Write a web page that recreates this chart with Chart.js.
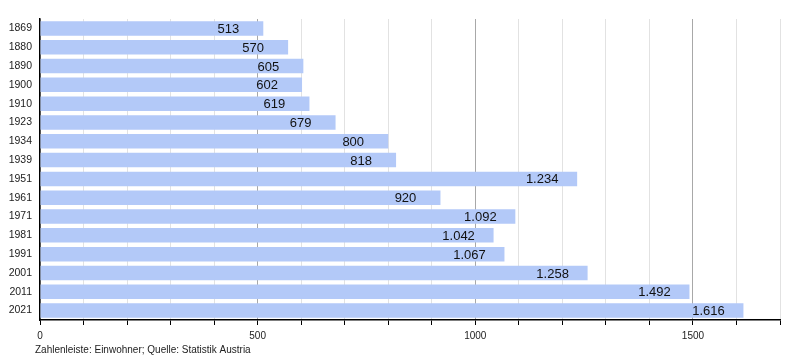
<!DOCTYPE html>
<html>
<head>
<meta charset="utf-8">
<script src="https://cdn.jsdelivr.net/npm/chart.js@4/dist/chart.umd.min.js"></script>
<style>
  html, body { margin: 0; padding: 0; background: #fff; }
  #wrap { width: 800px; height: 360px; position: relative; }
</style>
</head>
<body>
<div id="wrap"><canvas id="canvasID"></canvas></div>
<script>
const years = ['1869', '1880', '1890', '1900', '1910', '1923', '1934', '1939', '1951', '1961', '1971', '1981', '1991', '2001', '2011', '2021']
const population = [513, 570, 605, 602, 619, 679, 800, 818, 1234, 920, 1092, 1042, 1067, 1258, 1492, 1616]
const xTickLabels = [0, 500, 1000, 1500]
const footerText = 'Zahlenleiste: Einwohner; Quelle: Statistik Austria'

// german thousands separator, 1234 -> 1.234
const formatDE = (v) => String(v).replace(/\B(?=(\d{3})+(?!\d))/g, '.')

const valueLabels = {
  id: 'valueLabels',
  afterDatasetsDraw(chart) {
    const ctx = chart.ctx
    const meta = chart.getDatasetMeta(0)
    ctx.save()
    ctx.font = '13px "Liberation Sans", Arial, sans-serif'
    ctx.fillStyle = '#111'
    ctx.textAlign = 'center'
    ctx.textBaseline = 'middle'
    meta.data.forEach((bar, i) => {
      ctx.fillText(formatDE(population[i]), bar.x - 35, bar.y + 1)
    })
    ctx.restore()
  },
}

const footer = {
  id: 'footer',
  afterDraw(chart) {
    const ctx = chart.ctx
    ctx.save()
    ctx.font = '10px "Liberation Sans", Arial, sans-serif'
    ctx.fillStyle = '#222'
    ctx.textAlign = 'left'
    ctx.textBaseline = 'middle'
    ctx.fillText(footerText, 35, 350)
    ctx.restore()
  },
}

new Chart(document.getElementById('canvasID'), {
  type: 'bar',
  data: {
    labels: years,
    datasets: [
      {
        data: population,
        backgroundColor: '#b3c9f8',
        borderWidth: 0,
        barPercentage: 0.77,
        categoryPercentage: 1,
      },
    ],
  },
  options: {
    indexAxis: 'y',
    responsive: true,
    maintainAspectRatio: false,
    animation: false,
    layout: { padding: { left: 0, right: 20, top: 19, bottom: 18 } },
    scales: {
      x: {
        min: 0,
        max: 1700,
        afterFit: (scale) => { scale.height = 22 },
        ticks: {
          stepSize: 100,
          autoSkip: false,
          maxRotation: 0,
          padding: 5,
          color: '#222',
          font: { size: 10, family: '"Liberation Sans", Arial, sans-serif' },
          callback: (v) => (xTickLabels.includes(v) ? v : ''),
        },
        grid: {
          color: (c) => (c.tick && c.tick.value % 500 === 0 ? '#a8a8a8' : '#e2e2e2'),
          tickColor: '#000',
          tickLength: 5,
        },
        border: { color: '#000', width: 1.5 },
      },
      y: {
        afterFit: (scale) => { scale.width = 40 },
        ticks: {
          padding: 8,
          color: '#222',
          font: { size: 10.5, family: '"Liberation Sans", Arial, sans-serif' },
        },
        grid: { display: false, drawTicks: false },
        border: { color: '#000', width: 1.5 },
      },
    },
    plugins: {
      legend: { display: false },
      tooltip: { enabled: false },
    },
  },
  plugins: [valueLabels, footer],
})
</script>
</body>
</html>
